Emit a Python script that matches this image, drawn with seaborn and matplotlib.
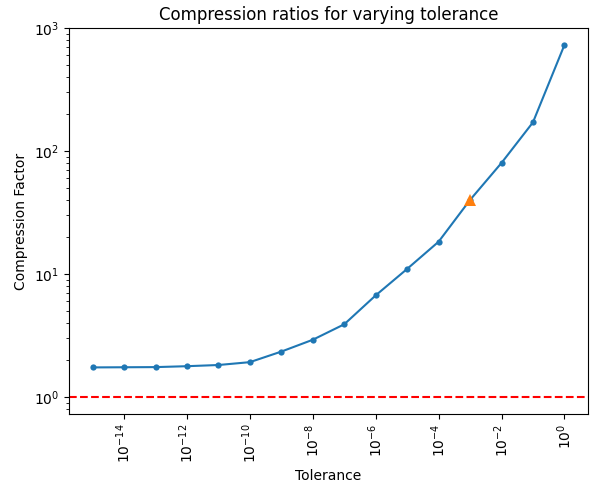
import matplotlib
matplotlib.use("Agg")
import matplotlib.pyplot as plt
import seaborn as sns
import pandas as pd
import numpy as np

tolerance = [1e-15, 1e-14, 1e-13, 1e-12, 1e-11, 1e-10, 1e-9, 1e-8,
             1e-7, 1e-6, 1e-5, 1e-4, 1e-3, 1e-2, 1e-1, 1e0]
compression = [1.74, 1.745, 1.75, 1.78, 1.82, 1.92, 2.34, 2.92,
               3.9, 6.7, 11.0, 18.3, 40.0, 80.0, 171, 727]
highlight_tol = [1e-3]
highlight_val = [40.0]

plt.style.use("default")
plt.rcParams['font.family'] = ['DejaVu Sans']

df = pd.DataFrame({"Tolerance": tolerance, "Compression Factor": compression})
hl = pd.DataFrame({"Tolerance": highlight_tol, "Compression Factor": highlight_val})

fig = plt.figure(figsize=(5.93, 4.84), dpi=100)
ax = fig.add_axes([69/593, 1-414/484, (588-69)/593, (414-28)/484])

sns.lineplot(data=df, x="Tolerance", y="Compression Factor", ax=ax,
             color="#1f77b4", marker="o", markersize=4.5, markeredgewidth=0,
             linewidth=1.5)
sns.lineplot(data=hl, x="Tolerance", y="Compression Factor", ax=ax,
             color="#ff7f0e", marker="^", markersize=8.5, markeredgewidth=0,
             linestyle="")
ax.axhline(1, color="red", linestyle="--", linewidth=1.5)

ax.set_xscale("log")
ax.set_yscale("log")
ax.set_xlim(10**-15.75, 10**0.75)
ax.set_ylim(10**(-17/123), 1000)
ax.set_xticks([1e-14, 1e-12, 1e-10, 1e-8, 1e-6, 1e-4, 1e-2, 1e0])
ax.xaxis.set_minor_locator(matplotlib.ticker.NullLocator())
ax.tick_params(axis="x", labelrotation=90, labelsize=10)
ax.tick_params(axis="y", labelsize=10)
ax.set_title("Compression ratios for varying tolerance", fontsize=12)
ax.set_xlabel("Tolerance", fontsize=10)
ax.set_ylabel("Compression Factor", fontsize=10)

fig.savefig("out.png", dpi=100)
